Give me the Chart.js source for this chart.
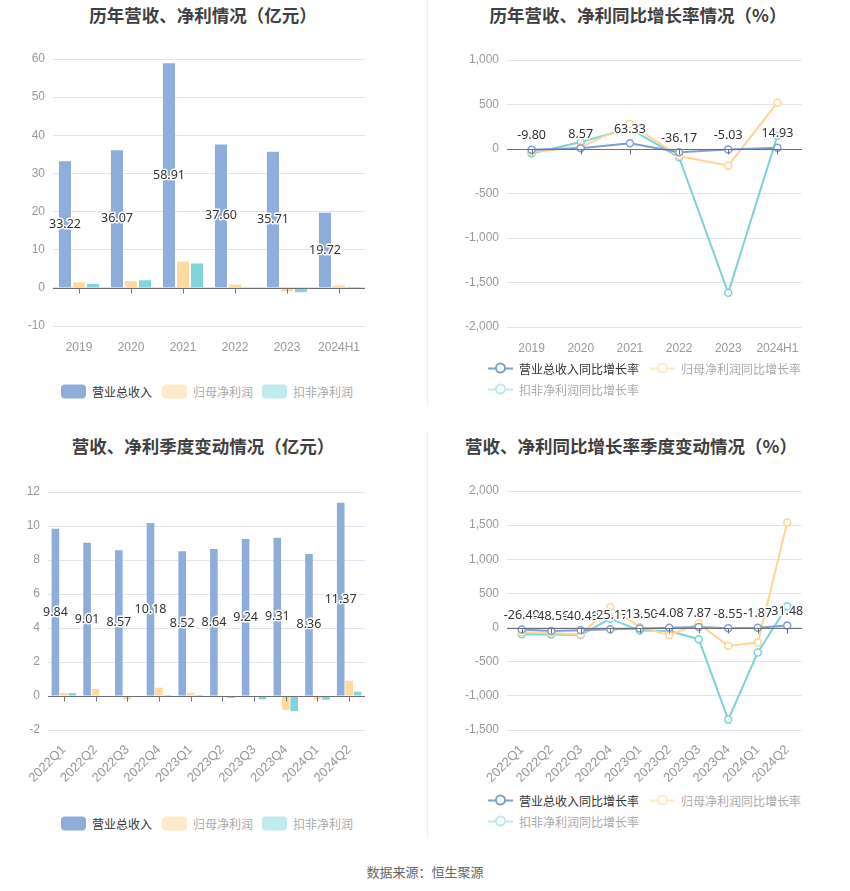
<!DOCTYPE html>
<html lang="zh-CN">
<head>
<meta charset="UTF-8">
<title>营收、净利情况</title>
<script src="https://cdn.jsdelivr.net/npm/chart.js"></script>
<style>
  body { margin: 0; width: 850px; height: 891px; background: #fff; position: relative; overflow: hidden;
         font-family: "Noto Sans CJK SC", "Noto Sans", sans-serif; }
  .box { position: absolute; }
  .title { position: absolute; transform: translate(-50%, -50%); font-size: 17.5px; font-weight: bold;
           color: #404040; white-space: nowrap; }
  .divider { position: absolute; left: 427px; width: 1px; background: #eeeeee; }
  .leg { position: absolute; font-size: 12px; white-space: nowrap; transform: translateY(-50%);
         display: flex; align-items: center; }
  .sw { width: 25px; height: 14px; border-radius: 4px; margin-right: 6px; }
  .ic { position: relative; width: 25px; height: 14px; margin-right: 6px; }
  .ic .ln { position: absolute; left: 0; right: 0; top: 6px; height: 2px; }
  .ic .dot { position: absolute; left: 7px; top: 1.5px; width: 11px; height: 11px; box-sizing: border-box;
             border: 2px solid; border-radius: 50%; background: #fff; }
  .foot { position: absolute; left: 425px; top: 871px; transform: translate(-50%, -50%); font-size: 13px; color: #666; }
</style>
</head>
<body>

<div class="title" style="left:203px; top:14px;">历年营收、净利情况（亿元）</div>
<div class="title" style="left:638px; top:14px;">历年营收、净利同比增长率情况（%）</div>
<div class="title" style="left:203px; top:445px;">营收、净利季度变动情况（亿元）</div>
<div class="title" style="left:631px; top:445px;">营收、净利同比增长率季度变动情况（%）</div>

<div class="divider" style="top:0; height:406px;"></div>
<div class="divider" style="top:432px; height:406px;"></div>

<canvas id="c1" class="box" width="420" height="320" style="left:0; top:40px;"></canvas>
<canvas id="c2" class="box" width="420" height="320" style="left:430px; top:40px;"></canvas>
<canvas id="c3" class="box" width="420" height="320" style="left:0; top:470px;"></canvas>
<canvas id="c4" class="box" width="420" height="320" style="left:430px; top:470px;"></canvas>

<div id="legends"></div>

<div class="foot">数据来源：恒生聚源</div>

<script>
// 年度数据（亿元）
const years = ["2019", "2020", "2021", "2022", "2023", "2024H1"];
const revYear = [33.22, 36.07, 58.91, 37.60, 35.71, 19.72];
const netYear = [1.45, 1.75, 6.9, 0.87, -0.9, 0.6];
const kfYear = [1.05, 2.0, 6.4, -0.05, -1.15, 0.02];

// 年度同比增长率（%）
const revGrowthYear = [-9.80, 8.57, 63.33, -36.17, -5.03, 14.93];
const netGrowthYear = [-35, 19, 281, -79, -187, 521];
const kfGrowthYear = [-50, 79, 232, -94, -1616, 150];

// 季度数据（亿元）
const quarters = ["2022Q1", "2022Q2", "2022Q3", "2022Q4", "2023Q1", "2023Q2", "2023Q3", "2023Q4", "2024Q1", "2024Q2"];
const revQuarter = [9.84, 9.01, 8.57, 10.18, 8.52, 8.64, 9.24, 9.31, 8.36, 11.37];
const netQuarter = [0.18, 0.41, -0.2, 0.49, 0.2, -0.03, -0.05, -0.82, -0.2, 0.9];
const kfQuarter = [0.17, -0.05, -0.05, 0.06, 0.06, -0.12, -0.2, -0.88, -0.22, 0.25];

// 季度同比增长率（%）
const revGrowthQuarter = [-26.49, -48.56, -40.49, -25.17, -13.50, -4.08, 7.87, -8.55, -1.87, 31.48];
const netGrowthQuarter = [-68, -78, -102, 297, 10, -112, 58, -268, -219, 1538];
const kfGrowthQuarter = [-97, -102, -110, 131, -44, -49, -170, -1348, -365, 311];

const barNames = ["营业总收入", "归母净利润", "扣非净利润"];
const lineNames = ["营业总收入同比增长率", "归母净利润同比增长率", "扣非净利润同比增长率"];

const BLUE = "rgb(142,173,219)";
const ORANGE = "rgb(254,217,160)";
const TEAL = "rgb(131,212,216)";
const LBLUE = "rgb(128,158,214)";
const LORANGE = "rgb(254,213,147)";
const LTEAL = "rgb(125,210,214)";
const GRID = "#e0e6f1";
const AXIS = "#6e7079";
const LABEL = "#999";

// zero line + category ticks, and value labels for the first series
const extras = {
  id: "extras",
  afterDatasetsDraw(chart, args, opts) {
    const { ctx, chartArea, scales: { x, y } } = chart;
    const y0 = Math.round(y.getPixelForValue(0)) + 0.5;
    ctx.save();
    ctx.strokeStyle = AXIS;
    ctx.lineWidth = 1;
    ctx.beginPath();
    ctx.moveTo(chartArea.left, y0);
    ctx.lineTo(chartArea.right, y0);
    chart.data.labels.forEach((l, i) => {
      const px = Math.round(x.getPixelForValue(i)) + 0.5;
      ctx.moveTo(px, y0);
      ctx.lineTo(px, y0 + 5);
    });
    ctx.stroke();

    const meta = chart.getDatasetMeta(0);
    const vals = chart.data.datasets[0].data;
    ctx.font = "12.5px 'Noto Sans', sans-serif";
    ctx.textAlign = "center";
    ctx.textBaseline = "middle";
    ctx.lineJoin = "round";
    meta.data.forEach((el, i) => {
      const txt = vals[i].toFixed(2);
      const ty = opts.mode === "bar" ? (el.y + el.base) / 2 : el.y - 14;
      ctx.strokeStyle = "#fff";
      ctx.lineWidth = 3;
      ctx.strokeText(txt, el.x, ty);
      ctx.fillStyle = "#333";
      ctx.fillText(txt, el.x, ty);
    });
    ctx.restore();
  }
};

function yScale(min, max, step, width) {
  return {
    min: min, max: max,
    ticks: { stepSize: step, color: LABEL, font: { size: 12 }, padding: 8 },
    grid: { color: GRID, drawTicks: false },
    border: { display: false },
    afterFit: s => { s.width = width; }
  };
}

function xScale(height, rotate) {
  return {
    offset: true,
    grid: { display: false, offset: true },
    border: { display: false },
    ticks: {
      color: LABEL, font: { size: rotate ? 13 : 12 }, padding: rotate ? 4 : 6, autoSkip: false,
      minRotation: rotate ? 45 : 0, maxRotation: rotate ? 45 : 0
    },
    afterFit: s => { s.height = height; }
  };
}

function barChart(id, labels, a, b, c, y, x, pad, catPct, barPct) {
  new Chart(document.getElementById(id), {
    type: "bar",
    data: {
      labels: labels,
      datasets: [
        { label: barNames[0], data: a, backgroundColor: BLUE },
        { label: barNames[1], data: b, backgroundColor: ORANGE },
        { label: barNames[2], data: c, backgroundColor: TEAL }
      ]
    },
    options: {
      responsive: false,
      animation: false,
      locale: "en-US",
      datasets: { bar: { categoryPercentage: catPct, barPercentage: barPct } },
      layout: { padding: pad },
      plugins: { legend: { display: false }, tooltip: { enabled: false }, extras: { mode: "bar" } },
      scales: { x: x, y: y }
    },
    plugins: [extras]
  });
}

function lineChart(id, labels, a, b, c, y, x, pad) {
  const ds = (name, data, col) => ({
    label: name, data: data, borderColor: col, backgroundColor: col,
    borderWidth: 2, pointRadius: 3.5, pointBorderWidth: 1.5,
    pointBackgroundColor: "#fff", pointBorderColor: col, tension: 0
  });
  new Chart(document.getElementById(id), {
    type: "line",
    data: {
      labels: labels,
      datasets: [ds(lineNames[0], a, LBLUE), ds(lineNames[1], b, LORANGE), ds(lineNames[2], c, LTEAL)]
    },
    options: {
      responsive: false,
      animation: false,
      locale: "en-US",
      layout: { padding: pad },
      plugins: { legend: { display: false }, tooltip: { enabled: false }, extras: { mode: "line" } },
      scales: { x: x, y: y }
    },
    plugins: [extras]
  });
}

barChart("c1", years, revYear, netYear, kfYear,
  yScale(-10, 60, 10, 53), xScale(34, false), { top: 19, right: 55 }, 0.81, 0.86);
lineChart("c2", years, revGrowthYear, netGrowthYear, kfGrowthYear,
  yScale(-2000, 1000, 500, 77), xScale(33, false), { top: 20, right: 48 });
barChart("c3", quarters, revQuarter, netQuarter, kfQuarter,
  yScale(-2, 12, 2, 48), xScale(60, true), { top: 22, right: 55 }, 0.8, 0.9);
lineChart("c4", quarters, revGrowthQuarter, netGrowthQuarter, kfGrowthQuarter,
  yScale(-1500, 2000, 500, 77), xScale(60, true), { top: 21, right: 48 });

// legends
const legendBox = document.getElementById("legends");
function barLegend(top) {
  const cols = [BLUE, "rgb(254,233,201)", "rgb(192,235,236)"];
  const lefts = [61, 162, 262];
  barNames.forEach((n, i) => {
    const d = document.createElement("div");
    d.className = "leg";
    d.style.left = lefts[i] + "px";
    d.style.top = top + "px";
    d.style.color = i === 0 ? "#333" : "#aaa";
    d.innerHTML = `<div class="sw" style="background:${cols[i]}"></div>${n}`;
    legendBox.appendChild(d);
  });
}
function lineLegend(top) {
  const cols = [LBLUE, "rgb(254,232,200)", "rgb(190,234,236)"];
  const pos = [[488, top], [650, top], [488, top + 21]];
  lineNames.forEach((n, i) => {
    const d = document.createElement("div");
    d.className = "leg";
    d.style.left = pos[i][0] + "px";
    d.style.top = pos[i][1] + "px";
    d.style.color = i === 0 ? "#333" : "#aaa";
    d.innerHTML = `<div class="ic"><div class="ln" style="background:${cols[i]}"></div>` +
      `<div class="dot" style="border-color:${cols[i]}"></div></div>${n}`;
    legendBox.appendChild(d);
  });
}
barLegend(391);
lineLegend(368);
barLegend(823);
lineLegend(800);
</script>
</body>
</html>
